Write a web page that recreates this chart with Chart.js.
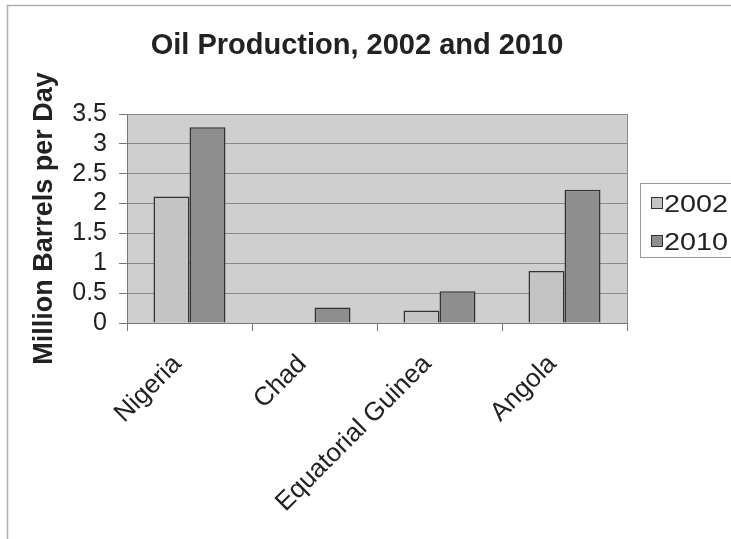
<!DOCTYPE html>
<html>
<head>
<meta charset="utf-8">
<script src="https://cdn.jsdelivr.net/npm/chart.js@4/dist/chart.umd.min.js"></script>
<style>
  html, body { margin: 0; padding: 0; background: #fff; }
  #wrap { position: relative; width: 731px; height: 539px; }
</style>
</head>
<body>
<div id="wrap"><canvas id="oilChart" width="731" height="539"></canvas></div>
<script>
// data
const CATEGORIES = ["Nigeria", "Chad", "Equatorial Guinea", "Angola"];
const SERIES_NAMES = ["2002", "2010"];
const VALUES_2002 = [2.12, 0, 0.21, 0.87];
const VALUES_2010 = [3.28, 0.26, 0.53, 2.23];
const Y_TICKS = [0, 0.5, 1, 1.5, 2, 2.5, 3, 3.5];
const TITLE = "Oil Production, 2002 and 2010";
const Y_TITLE = "Million Barrels per Day";

const FONT = "'Liberation Sans', Arial, Helvetica, sans-serif";
const COLORS = ["#c4c4c4", "#8e8e8e"];
const INK = "#222";

// page frame, plot background, title and legend box
const decor = {
  id: "decor",
  beforeDraw(chart){
    const {ctx, chartArea:a} = chart;
    ctx.save();
    ctx.fillStyle = "#fff";
    ctx.fillRect(0, 0, chart.width, chart.height);
    ctx.strokeStyle = "#b0b0b0";
    ctx.lineWidth = 1.5;
    ctx.beginPath();
    ctx.moveTo(7.5, chart.height); ctx.lineTo(7.5, 5.5); ctx.lineTo(chart.width, 5.5);
    ctx.stroke();
    ctx.fillStyle = "#cfcfcf";
    ctx.fillRect(a.left, a.top, a.right - a.left, a.bottom - a.top);
    ctx.restore();
  },
  afterDraw(chart){
    const {ctx, chartArea:a} = chart;
    ctx.save();
    // right edge of plot
    ctx.strokeStyle = "#8a8a8a";
    ctx.lineWidth = 1;
    ctx.beginPath();
    ctx.moveTo(Math.round(a.right) + 0.5, a.top); ctx.lineTo(Math.round(a.right) + 0.5, a.bottom);
    ctx.stroke();
    // title
    ctx.fillStyle = INK;
    ctx.font = "bold 29px " + FONT;
    ctx.textAlign = "center";
    ctx.textBaseline = "alphabetic";
    ctx.fillText(TITLE, 357, 54);
    // legend
    ctx.strokeStyle = "#9a9a9a";
    ctx.strokeRect(640.5, 183.5, 120, 74);
    const rows = [212, 250];
    SERIES_NAMES.forEach((name, i) => {
      const y = rows[i];
      ctx.fillStyle = COLORS[i];
      ctx.fillRect(651, y - 15, 11, 11);
      ctx.strokeStyle = "#333";
      ctx.strokeRect(651.5, y - 14.5, 11, 11);
      // the scan's legend text is a bit wider than it is tall
      ctx.save();
      ctx.translate(664, y);
      ctx.scale(1.2, 1);
      ctx.fillStyle = INK;
      ctx.font = "24px " + FONT;
      ctx.textAlign = "left";
      ctx.fillText(name, 0, 0);
      ctx.restore();
    });
    ctx.restore();
  }
};

new Chart(document.getElementById("oilChart"), {
  type: "bar",
  data: {
    labels: CATEGORIES,
    datasets: [
      {label: SERIES_NAMES[0], data: VALUES_2002, backgroundColor: COLORS[0], borderColor: "#333", borderWidth: 1.5},
      {label: SERIES_NAMES[1], data: VALUES_2010, backgroundColor: COLORS[1], borderColor: "#333", borderWidth: 1.5}
    ]
  },
  options: {
    responsive: false,
    animation: false,
    layout: {padding: {top: 114, right: 104, left: 0, bottom: 0}},
    datasets: {bar: {categoryPercentage: 0.576, barPercentage: 1}},
    plugins: {legend: {display: false}, title: {display: false}, tooltip: {enabled: false}},
    scales: {
      x: {
        afterFit: s => { s.height = 216; },
        grid: {drawOnChartArea: false, drawTicks: true, tickLength: 8, tickColor: "#777", offset: true},
        border: {display: true, color: "#777", width: 1},
        ticks: {color: INK, font: {family: FONT, size: 26}, minRotation: 45, maxRotation: 45, padding: 18, labelOffset: -12, autoSkip: false}
      },
      y: {
        min: 0, max: 3.5,
        afterFit: s => { s.width = 127; },
        afterBuildTicks: s => { s.ticks = Y_TICKS.map(v => ({value: v})); },
        grid: {color: "#8a8a8a", lineWidth: 1, drawTicks: true, tickLength: 8, tickColor: "#777"},
        border: {display: true, color: "#777", width: 1},
        ticks: {color: INK, font: {family: FONT, size: 25}, padding: 12, autoSkip: false, callback: v => String(v)},
        title: {display: true, text: Y_TITLE, color: INK, font: {family: FONT, size: 27, weight: "bold"}, padding: {top: 28, bottom: 0}}
      }
    }
  },
  plugins: [decor]
});
</script>
</body>
</html>
